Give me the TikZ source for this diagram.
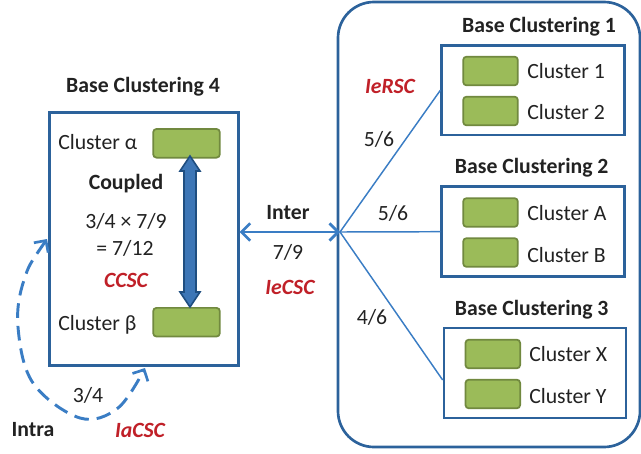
\documentclass[tikz,border=0pt]{standalone}
\usepackage{fontspec}
\setmainfont{Carlito}
\usetikzlibrary{arrows.meta,calc}
\definecolor{boxblue}{RGB}{44,98,155}
\definecolor{lineblue}{RGB}{58,125,196}
\definecolor{arrfill}{RGB}{61,118,182}
\definecolor{arrdark}{RGB}{31,78,128}
\definecolor{gfill}{RGB}{155,187,89}
\definecolor{gdraw}{RGB}{113,137,63}
\definecolor{myred}{RGB}{192,32,40}
\definecolor{txt}{RGB}{34,34,34}
\begin{document}
\begin{tikzpicture}[x=0.75pt,y=-0.75pt,
  every node/.style={font=\fontsize{16.3}{19}\selectfont, text=txt, inner sep=0pt},
  bcbox/.style={draw=boxblue, line width=2pt, fill=white},
  gbox/.style={draw=gdraw, line width=1.3pt, fill=gfill, rounded corners=2.5pt, minimum width=41pt, minimum height=21.5pt},
  title/.style={font=\fontsize{16.3}{19}\selectfont\bfseries},
  redlbl/.style={font=\fontsize{16.3}{19}\selectfont\bfseries\itshape, text=myred},
  conn/.style={draw=lineblue, line width=1.1pt},
  barb/.style={Straight Barb[length=6.5pt, width=13pt, line width=2pt]}
]
\useasboundingbox (0,0) rectangle (641,453);

% big rounded container
\draw[boxblue, line width=2pt, rounded corners=27pt] (338,2) rectangle (640,447);

% Base clustering 1
\node[title] at (539,27) {Base Clustering 1};
\node[bcbox, minimum width=137pt, minimum height=67pt] (bc1) at (533,90.3) {};
\node[gbox] (c1) at (490.5,71) {};
\node[gbox] (c2) at (490.5,111) {};
\node[anchor=west] at (527,71) {Cluster 1};
\node[anchor=west] at (527,112) {Cluster 2};

% Base clustering 2
\node[title] at (531.7,168) {Base Clustering 2};
\node[bcbox, minimum width=137pt, minimum height=67.5pt] (bc2) at (533,231.7) {};
\node[gbox] (cA) at (490.5,212.5) {};
\node[gbox] (cB) at (490.5,252.5) {};
\node[anchor=west] at (527,213) {Cluster A};
\node[anchor=west] at (527,255) {Cluster B};

% Base clustering 3
\node[title] at (531.7,310) {Base Clustering 3};
\node[bcbox, minimum width=136.5pt, minimum height=67.5pt] (bc3) at (535,373) {};
\node[gbox] (cX) at (492.8,354) {};
\node[gbox] (cY) at (492.8,394) {};
\node[anchor=west] at (529,354) {Cluster X};
\node[anchor=west] at (529,396) {Cluster Y};

% hub and lines
\coordinate (hub) at (340,232);
\draw[conn] (hub) -- (bc1.west);
\draw[conn] (hub) -- (bc2.west);
\draw[conn] (hub) -- ($(bc3.west)+(0,7)$);
\node[redlbl] at (390,86) {IeRSC};
\node at (379,139) {5/6};
\node at (393,213) {5/6};
\node at (372,317) {4/6};

% Base clustering 4
\node[title] at (143,87) {Base Clustering 4};
\node[bcbox, minimum width=141.75pt, minimum height=190pt] (bc4) at (143.8,239) {};
\node[gbox, minimum width=50pt] (ca) at (186.5,143.3) {};
\node[gbox, minimum width=50pt] (cb) at (186.5,322.2) {};
\node[anchor=west] at (58,142) {Cluster α};
\node[anchor=west] at (58,325) {Cluster β};
\node[title] at (126,184) {Coupled};
\node at (126,221) {3/4 × 7/9};
\node at (125,248) {= 7/12};
\node[redlbl] at (126,280) {CCSC};

% thick coupled arrow
\draw[fill=arrfill, draw=arrdark, line width=1.2pt, line join=miter]
  (190,156) -- (200,171) -- (196,171) -- (196,292) -- (200,292) -- (190,307)
  -- (180,292) -- (184,292) -- (184,171) -- (180,171) -- cycle;

% inter arrow
\draw[draw=lineblue, line width=2.2pt, {Straight Barb[length=6.5pt, width=13pt, line width=2pt]}-{Straight Barb[length=6.5pt, width=13pt, line width=2pt]}]
  (bc4.east |- hub) -- (hub);
\node[title] at (288,213) {Inter};
\node at (288,252) {7/9};
\node[redlbl] at (290,287) {IeCSC};

% intra dashed arc
\coordinate (ia) at (47,239);
\coordinate (ib) at (145,368);
\draw[draw=lineblue, line width=2.2pt, dash pattern=on 11pt off 6pt,
  {Straight Barb[length=6.5pt, width=13pt, line width=2pt]}-{Straight Barb[length=6.5pt, width=13pt, line width=2pt]}]
  plot[smooth, tension=0.6] coordinates {(ia) (24,280) (18,327) (33,383) (80,418) (118,408) (ib)};
\node at (88,395) {3/4};
\node[title] at (33,430) {Intra};
\node[redlbl] at (140,430) {IaCSC};
\end{tikzpicture}
\end{document}
